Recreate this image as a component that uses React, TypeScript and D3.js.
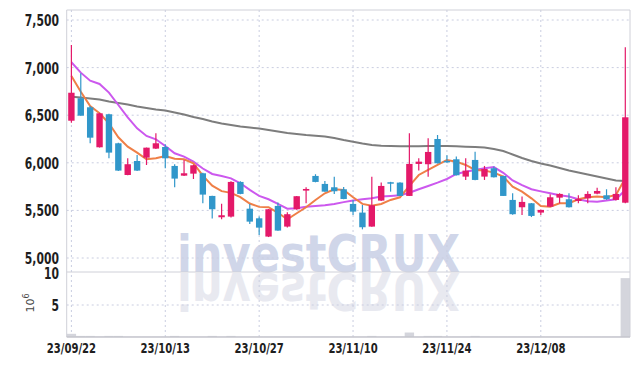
import React from "react";
import * as d3 from "d3";

// trading days shown on the chart
const dates = [
  "2023-09-22", "2023-09-25", "2023-09-26", "2023-09-27",
  "2023-10-04", "2023-10-05", "2023-10-06", "2023-10-10", "2023-10-11", "2023-10-12", "2023-10-13",
  "2023-10-16", "2023-10-17", "2023-10-18", "2023-10-19", "2023-10-20",
  "2023-10-23", "2023-10-24", "2023-10-25", "2023-10-26", "2023-10-27",
  "2023-10-30", "2023-10-31", "2023-11-01", "2023-11-02", "2023-11-03",
  "2023-11-06", "2023-11-07", "2023-11-08", "2023-11-09", "2023-11-10",
  "2023-11-13", "2023-11-14", "2023-11-15", "2023-11-16", "2023-11-17",
  "2023-11-20", "2023-11-21", "2023-11-22", "2023-11-23", "2023-11-24",
  "2023-11-27", "2023-11-28", "2023-11-29", "2023-11-30", "2023-12-01",
  "2023-12-04", "2023-12-05", "2023-12-06", "2023-12-07", "2023-12-08",
  "2023-12-11", "2023-12-12", "2023-12-13", "2023-12-14", "2023-12-15",
  "2023-12-18", "2023-12-19", "2023-12-20", "2023-12-21",
];

const open = [
  6442, 6678, 6583, 6163, 6510, 6205, 5872, 6019, 6054, 6149, 6166, 5967, 5865, 5886, 5890,
  5652, 5428, 5435, 5799, 5518, 5417, 5225, 5547, 5330, 5512, 5708, 5862, 5778, 5743, 5722,
  5568, 5477, 5330, 5603, 5796, 5792, 5652, 5988, 5985, 6250, 6020, 6037, 5855, 6030, 5855,
  5943, 5862, 5610, 5533, 5575, 5477, 5539, 5634, 5617, 5599, 5627, 5676, 5659, 5610, 5581,
];
const high = [
  7237, 6940, 6597, 6525, 6515, 6210, 6047, 6082, 6160, 6310, 6195, 5985, 6030, 5980, 5895,
  5655, 5571, 5805, 5805, 5568, 5435, 5515, 5582, 5480, 5652, 5743, 5880, 5809, 5854, 5745,
  5610, 5557, 5854, 5792, 5800, 5795, 6310, 6047, 6258, 6292, 6080, 6065, 6047, 6117, 5967,
  5960, 5865, 5680, 5645, 5578, 5510, 5670, 5680, 5680, 5659, 5701, 5739, 5722, 5743, 7213,
];
const low = [
  6420, 6495, 6205, 6160, 6047, 5915, 5870, 5915, 5977, 6145, 5943, 5743, 5862, 5830, 5575,
  5414, 5407, 5425, 5670, 5358, 5242, 5220, 5285, 5320, 5508, 5575, 5795, 5695, 5673, 5618,
  5452, 5301, 5328, 5600, 5697, 5650, 5650, 5918, 5854, 5993, 6000, 5867, 5820, 5818, 5820,
  5846, 5650, 5455, 5452, 5430, 5452, 5535, 5575, 5530, 5575, 5575, 5670, 5610, 5605, 5575,
];
const close = [
  6736, 6495, 6264, 6520, 6107, 5918, 5985, 5918, 6159, 6205, 6047, 5834, 5890, 5974, 5666,
  5512, 5449, 5799, 5673, 5382, 5319, 5512, 5288, 5460, 5649, 5725, 5799, 5697, 5701, 5620,
  5487, 5323, 5554, 5757, 5785, 5652, 5988, 6012, 6114, 5995, 6010, 5869, 5918, 5820, 5935,
  5848, 5652, 5460, 5589, 5442, 5505, 5638, 5673, 5533, 5620, 5673, 5704, 5617, 5673, 6478,
];

// volume, millions of shares
const volume = [
  0.5, 0.17, 0.17, 0.08, 0.17, 0.17, 0.04, 0.04, 0.04, 0.04, 0.04, 0.17, 0.04, 0.04, 0.04,
  0.17, 0.04, 0.17, 0.04, 0.04, 0.04, 0.04, 0.04, 0.04, 0.04, 0.04, 0.04, 0.04, 0.04, 0.04,
  0.04, 0.04, 0.17, 0.04, 0.04, 0.04, 0.7, 0.04, 0.17, 0.17, 0.04, 0.04, 0.04, 0.17, 0.04,
  0.04, 0.04, 0.04, 0.04, 0.04, 0.04, 0.04, 0.04, 0.04, 0.04, 0.04, 0.04, 0.04, 0.04, 9.2,
];

// moving averages as drawn
const ma5 = [
  6912, 6747, 6597, 6520, 6415, 6268, 6170, 6107, 6037, 6047, 6071, 6043, 6037, 5995, 5865,
  5760, 5702, 5684, 5640, 5572, 5537, 5533, 5475, 5407, 5470, 5533, 5610, 5680, 5722, 5715,
  5638, 5568, 5550, 5568, 5610, 5638, 5757, 5872, 5925, 5977, 6030, 6012, 5977, 5925, 5918,
  5897, 5855, 5750, 5697, 5627, 5547, 5539, 5575, 5575, 5617, 5638, 5645, 5638, 5662, 5837,
];
const ma20 = [
  7056, 6947, 6862, 6828, 6737, 6607, 6478, 6362, 6282, 6247, 6177, 6100, 6065, 6012, 5940,
  5883, 5862, 5837, 5785, 5715, 5652, 5617, 5568, 5518, 5522, 5539, 5547, 5554, 5568, 5587,
  5603, 5617, 5627, 5645, 5652, 5659, 5686, 5722, 5757, 5792, 5830, 5883, 5907, 5925, 5942,
  5955, 5895, 5815, 5765, 5722, 5700, 5680, 5659, 5645, 5617, 5596, 5592, 5603, 5617, 5715,
];
const ma60 = [
  6694, 6686, 6675, 6665, 6644, 6628, 6612, 6591, 6576, 6560, 6549, 6528, 6507, 6481, 6460,
  6434, 6413, 6397, 6381, 6371, 6360, 6345, 6329, 6313, 6303, 6292, 6285, 6276, 6261, 6240,
  6222, 6203, 6187, 6180, 6177, 6173, 6173, 6174, 6177, 6177, 6177, 6173, 6169, 6166, 6161,
  6145, 6124, 6087, 6050, 6019, 5993, 5972, 5945, 5919, 5898, 5877, 5856, 5835, 5814, 5809,
];

const priceTicks = [5000, 5500, 6000, 6500, 7000, 7500];
const volTicks = [5, 10];
const dateTicks = ["2023-09-22", "2023-10-13", "2023-10-27", "2023-11-10", "2023-11-24", "2023-12-08"];

const UP = "#e41969";
const DOWN = "#3197ca";
const GRID = "#c9cde0";
const FRAME = "#cfd0d8";
const FONT = "'DejaVu Sans Condensed', 'DejaVu Sans', sans-serif";
const MARK_FONT = "'DejaVu Sans', sans-serif";

// narrow bold label: squeeze a condensed face sideways
function Label(props: { x: number; y: number; anchor: string; size: number; text: string }) {
  return (
    <g transform={`translate(${props.x},${props.y}) scale(0.8,1)`}>
      <text textAnchor={props.anchor} fontFamily={FONT} fontWeight="bold" fontSize={props.size} fill="#1e1e1e">
        {props.text}
      </text>
    </g>
  );
}

export default function App() {
  const left = 66.7, right = 630;
  const priceTop = 10, priceBottom = 272, volBottom = 337;

  const x = d3.scaleBand<string>().domain(dates).range([left, right]).padding(0);
  const bw = x.bandwidth();
  const cx = (i: number) => (x(dates[i]) as number) + bw / 2;
  const y = d3.scaleLinear().domain([5000, 7500]).range([258, 20]);
  const yv = d3.scaleLinear().domain([0, 10]).range([volBottom, 273]);

  const line = d3.line<number>().x((_, i) => cx(i)).y(v => y(v));
  const fmt = d3.format(",");
  const dateLabel = (s: string) => s.slice(2).replace(/-/g, "/");

  const body = bw * 0.68;

  return (
    <svg width={639} height={366} style={{ position: "fixed", left: 0, top: 0, background: "#fff" }}>
      {/* watermark with reflection */}
      <text x={177} y={272} textLength={283} lengthAdjust="spacingAndGlyphs" fontFamily={MARK_FONT}
        fontWeight="bold" fontSize={51} fill="#d0d6e9">investCRUX</text>
      <g transform="translate(0,545) scale(1,-1)">
        <text x={177} y={272} textLength={283} lengthAdjust="spacingAndGlyphs" fontFamily={MARK_FONT}
          fontWeight="bold" fontSize={51} fill="#e8e9f0">investCRUX</text>
      </g>

      {/* grid */}
      {priceTicks.map(t => (
        <line key={"pg" + t} x1={left} x2={right} y1={y(t)} y2={y(t)} stroke={GRID} strokeDasharray="2,3" />
      ))}
      <line x1={left} x2={right} y1={yv(5)} y2={yv(5)} stroke={GRID} strokeDasharray="2,3" />
      {dateTicks.map(d => (
        <line key={"vg" + d} x1={cx(dates.indexOf(d))} x2={cx(dates.indexOf(d))} y1={priceTop} y2={volBottom}
          stroke={GRID} strokeDasharray="2,3" />
      ))}

      {/* volume */}
      {volume.map((v, i) => (
        <rect key={"v" + i} x={x(dates[i])} y={yv(v)} width={bw} height={volBottom - yv(v)} fill="#d4d5dc" />
      ))}

      {/* moving averages */}
      <path d={line(ma60) || ""} fill="none" stroke="#7d7d7d" strokeWidth={2} />
      <path d={line(ma20) || ""} fill="none" stroke="#cc58ee" strokeWidth={2} />
      <path d={line(ma5) || ""} fill="none" stroke="#ef7f47" strokeWidth={2} />

      {/* candles */}
      {dates.map((d, i) => {
        const up = close[i] >= open[i];
        const c = up ? UP : DOWN;
        const top = y(Math.max(open[i], close[i]));
        const bot = y(Math.min(open[i], close[i]));
        return (
          <g key={d}>
            <line x1={cx(i)} x2={cx(i)} y1={y(high[i])} y2={y(low[i])} stroke={c} strokeWidth={1.2} />
            <rect x={cx(i) - body / 2} y={top} width={body} height={Math.max(bot - top, 1.5)} fill={c} />
          </g>
        );
      })}

      {/* frame */}
      <line x1={left} x2={right} y1={priceTop} y2={priceTop} stroke={FRAME} />
      <line x1={left} x2={left} y1={priceTop} y2={volBottom} stroke={FRAME} />
      <line x1={right} x2={right} y1={priceTop} y2={volBottom} stroke={FRAME} />
      <line x1={left} x2={right} y1={priceBottom} y2={priceBottom} stroke={FRAME} />
      <line x1={left} x2={right} y1={volBottom} y2={volBottom} stroke="#c4c5cd" strokeWidth={1.5} />

      {/* labels */}
      {priceTicks.map(t => (
        <Label key={"pl" + t} x={59} y={y(t) + 6} anchor="end" size={15} text={fmt(t)} />
      ))}
      {volTicks.map(t => (
        <Label key={"vl" + t} x={59} y={yv(t) + 6} anchor="end" size={15} text={String(t)} />
      ))}
      <text transform="translate(34,303) rotate(-90)" textAnchor="middle" fontFamily="'DejaVu Sans', sans-serif" fontSize={11} fill="#444">
        10<tspan dy={-5} fontSize={8}>6</tspan>
      </text>
      {dateTicks.map(d => (
        <Label key={"dl" + d} x={cx(dates.indexOf(d))} y={353} anchor="middle" size={14} text={dateLabel(d)} />
      ))}
    </svg>
  );
}
